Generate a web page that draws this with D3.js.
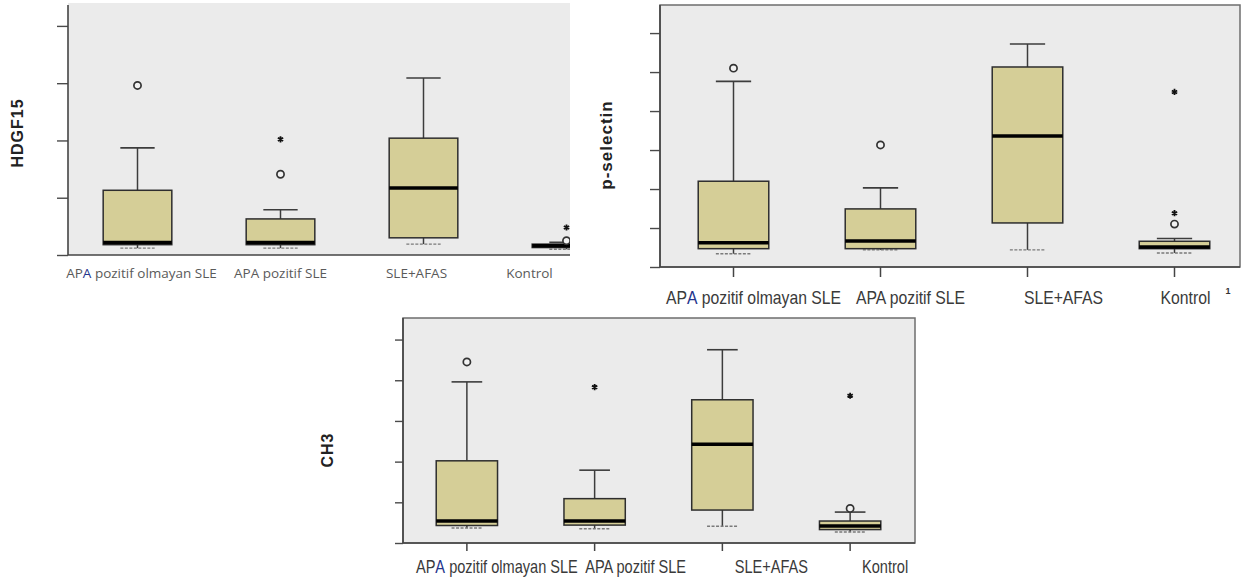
<!DOCTYPE html>
<html>
<head>
<meta charset="utf-8">
<script src="https://cdn.jsdelivr.net/npm/d3@7"></script>
<style>
  html, body { margin: 0; padding: 0; background: #fff; }
  svg { display: block; }
</style>
</head>
<body>
<svg id="chart" width="1246" height="585"></svg>
<script>
// ---- data -------------------------------------------------------------
const categories = ["APA pozitif olmayan SLE", "APA pozitif SLE", "SLE+AFAS", "Kontrol"];

// five-number summaries per group: [lower whisker, Q1, median, Q3, upper whisker]
const hdgf15Boxes = [
  [0.12, 0.18, 0.22, 1.13, 1.87],
  [0.12, 0.18, 0.22, 0.63, 0.79],
  [0.19, 0.30, 1.17, 2.04, 3.09],
  [0.10, 0.13, 0.16, 0.19, 0.22]
];
const pselectinBoxes = [
  [0.34, 0.47, 0.62, 2.20, 4.76],
  [0.44, 0.47, 0.67, 1.49, 2.03],
  [0.44, 1.13, 3.36, 5.13, 5.72],
  [0.36, 0.47, 0.51, 0.66, 0.73]
];
const ch3Boxes = [
  [0.37, 0.43, 0.54, 2.02, 3.96],
  [0.35, 0.44, 0.54, 1.09, 1.79],
  [0.41, 0.81, 2.43, 3.52, 4.75],
  [0.27, 0.33, 0.42, 0.54, 0.76]
];

// outliers: [group, value, kind]  ("o" = outlier, "*" = extreme)
const hdgf15Outliers = [
  ["APA pozitif olmayan SLE", 2.96, "o"],
  ["APA pozitif SLE", 2.02, "*"],
  ["APA pozitif SLE", 1.41, "o"],
  ["Kontrol", 0.25, "o"],
  ["Kontrol", 0.48, "*"]
];
const pselectinOutliers = [
  ["APA pozitif olmayan SLE", 5.10, "o"],
  ["APA pozitif SLE", 3.13, "o"],
  ["Kontrol", 1.10, "o"],
  ["Kontrol", 1.38, "*"],
  ["Kontrol", 4.49, "*"]
];
const ch3Outliers = [
  ["APA pozitif olmayan SLE", 4.45, "o"],
  ["APA pozitif SLE", 3.83, "*"],
  ["Kontrol", 0.85, "o"],
  ["Kontrol", 3.62, "*"]
];

// y-axis tick values (the axes carry no numbers)
const hdgf15Ticks = [0, 1, 2, 3, 4];
const pselectinTicks = [0, 1, 2, 3, 4, 5, 6];
const ch3Ticks = [0, 1, 2, 3, 4, 5];

// ---- layout -----------------------------------------------------------
const panels = [
  {
    title: "HDGF15", boxes: hdgf15Boxes, outliers: hdgf15Outliers, ticks: hdgf15Ticks,
    left: 68, right: 570, top: 3, bottom: 255, axisTop: 5, band: [66, 638], yMax: 4.4,
    frame: false, yTick: 11, xTick: 0,
    titlePos: [17, 133], titleSize: 16,
    label: { y: 273, family: "'Open Sans', sans-serif", size: 13.5, sx: 1, color: "#5a5a5a",
             shift: [4, 0, -7, -37] }
  },
  {
    title: "p-selectin", boxes: pselectinBoxes, outliers: pselectinOutliers, ticks: pselectinTicks,
    left: 660, right: 1240, top: 5, bottom: 267, axisTop: 5, band: [660, 1248], yMax: 6.72,
    frame: true, yTick: 10, xTick: 10,
    titlePos: [606, 145], titleSize: 17,
    label: { y: 297, family: "'Liberation Sans', Arial, sans-serif", size: 19, sx: 0.83, color: "#3a3a3a",
             shift: [20, 30, 36, 11], note: "1" }
  },
  {
    title: "CH3", boxes: ch3Boxes, outliers: ch3Outliers, ticks: ch3Ticks,
    left: 403, right: 915, top: 318, bottom: 543, axisTop: 318, band: [403, 914], yMax: 5.53,
    frame: true, yTick: 8, xTick: 8,
    titlePos: [327, 450], titleSize: 16,
    label: { y: 567, family: "'Liberation Sans', Arial, sans-serif", size: 18, sx: 0.81, color: "#3a3a3a",
             shift: [30, 41, 49, 35] }
  }
];

const BOX_FILL = "#d5ce97";
const PLOT_BG = "#ebebeb";

const svg = d3.select("#chart");

panels.forEach((p, pi) => {
  const g = svg.append("g");
  const x = d3.scaleBand().domain(categories).range(p.band).padding(0);
  const y = d3.scaleLinear().domain([0, p.yMax]).range([p.bottom, p.top]);
  const cx = c => x(c) + x.bandwidth() / 2;
  const bw = x.bandwidth() * 0.48;

  // plot area
  g.append("rect")
    .attr("x", p.left).attr("y", p.top)
    .attr("width", p.right - p.left).attr("height", p.bottom - p.top)
    .attr("fill", PLOT_BG)
    .attr("stroke", p.frame ? "#6e6e6e" : "none")
    .attr("stroke-width", 1.5);

  const clipId = "plotclip" + pi;
  g.append("clipPath").attr("id", clipId).append("rect")
    .attr("x", p.left).attr("y", 0)
    .attr("width", p.right - p.left).attr("height", p.bottom + 1);

  const marks = g.append("g").attr("clip-path", `url(#${clipId})`);

  // boxes
  const groups = marks.selectAll("g.box")
    .data(categories.map((c, i) => ({ cat: c, s: p.boxes[i] })))
    .join("g").attr("class", "box");

  // whisker stems
  groups.append("line")
    .attr("x1", d => cx(d.cat)).attr("x2", d => cx(d.cat))
    .attr("y1", d => y(d.s[3])).attr("y2", d => y(d.s[4]))
    .attr("stroke", "#3c3c3c").attr("stroke-width", 1.5);
  groups.append("line")
    .attr("x1", d => cx(d.cat)).attr("x2", d => cx(d.cat))
    .attr("y1", d => y(d.s[0])).attr("y2", d => y(d.s[1]))
    .attr("stroke", "#3c3c3c").attr("stroke-width", 1.5);
  // whisker caps
  groups.append("line")
    .attr("x1", d => cx(d.cat) - bw / 4).attr("x2", d => cx(d.cat) + bw / 4)
    .attr("y1", d => y(d.s[4])).attr("y2", d => y(d.s[4]))
    .attr("stroke", "#3c3c3c").attr("stroke-width", 1.6);
  groups.append("line")
    .attr("x1", d => cx(d.cat) - bw / 4).attr("x2", d => cx(d.cat) + bw / 4)
    .attr("y1", d => y(d.s[0])).attr("y2", d => y(d.s[0]))
    .attr("stroke", "#7a7a7a").attr("stroke-width", 1.4)
    .attr("stroke-dasharray", "3,1.5");
  // interquartile box
  groups.append("rect")
    .attr("x", d => cx(d.cat) - bw / 2).attr("width", bw)
    .attr("y", d => y(d.s[3])).attr("height", d => y(d.s[1]) - y(d.s[3]))
    .attr("fill", BOX_FILL).attr("stroke", "#2e2e2e").attr("stroke-width", 1.5);
  // median
  groups.append("line")
    .attr("x1", d => cx(d.cat) - bw / 2).attr("x2", d => cx(d.cat) + bw / 2)
    .attr("y1", d => y(d.s[2])).attr("y2", d => y(d.s[2]))
    .attr("stroke", "#000").attr("stroke-width", 3.5);

  // outliers
  marks.selectAll("circle.out")
    .data(p.outliers.filter(o => o[2] === "o"))
    .join("circle").attr("class", "out")
    .attr("cx", d => cx(d[0])).attr("cy", d => y(d[1])).attr("r", 3.6)
    .attr("fill", "#f2f2f2").attr("stroke", "#333").attr("stroke-width", 1.7);
  marks.selectAll("path.ext")
    .data(p.outliers.filter(o => o[2] === "*"))
    .join("path").attr("class", "ext")
    .attr("transform", d => `translate(${cx(d[0])},${y(d[1])})`)
    .attr("d", d3.symbol(d3.symbolAsterisk, 26))
    .attr("fill", "none").attr("stroke", "#111").attr("stroke-width", 1.8);

  // y axis ticks (no numbers)
  const ya = g.append("g").attr("transform", `translate(${p.left},0)`)
    .call(d3.axisLeft(y).tickValues(p.ticks).tickFormat("").tickSize(p.yTick).tickSizeOuter(0));
  ya.select(".domain").remove();
  ya.selectAll(".tick line").attr("stroke", "#4a4a4a").attr("stroke-width", 1.4);

  // x axis ticks
  if (p.xTick > 0) {
    const xa = g.append("g").attr("transform", `translate(0,${p.bottom})`)
      .call(d3.axisBottom(x).tickFormat("").tickSize(p.xTick).tickSizeOuter(0));
    xa.select(".domain").remove();
    xa.selectAll(".tick line").attr("stroke", "#444").attr("stroke-width", 1.5);
  }

  // axis lines
  g.append("line")
    .attr("x1", p.left).attr("x2", p.left).attr("y1", p.axisTop).attr("y2", p.bottom)
    .attr("stroke", "#444").attr("stroke-width", 1.6);
  g.append("line")
    .attr("x1", p.left).attr("x2", p.right).attr("y1", p.bottom).attr("y2", p.bottom)
    .attr("stroke", "#444").attr("stroke-width", 1.6);

  // category labels
  const L = p.label;
  const labels = g.selectAll("text.cat")
    .data(categories)
    .join("text").attr("class", "cat")
    .attr("transform", (c, i) => `translate(${cx(c) + L.shift[i]},${L.y}) scale(${L.sx},1)`)
    .attr("text-anchor", "middle")
    .attr("dy", "0.35em")
    .attr("font-family", L.family)
    .attr("font-size", L.size)
    .attr("fill", L.color);
  labels.each(function (c, i) {
    const t = d3.select(this);
    if (i === 0) {
      t.append("tspan").text(c.slice(0, 2));
      t.append("tspan").attr("fill", "#25348c").text(c.slice(2, 3));
      t.append("tspan").text(c.slice(3));
    } else {
      t.text(c);
    }
  });
  if (L.note) {
    const last = categories[categories.length - 1];
    g.append("text")
      .attr("x", cx(last) + L.shift[3] + 40).attr("y", L.y - 3)
      .attr("font-family", L.family).attr("font-size", 9).attr("font-weight", "bold")
      .attr("fill", "#333").text(L.note);
  }

  // y-axis title
  g.append("text")
    .attr("transform", `translate(${p.titlePos[0]},${p.titlePos[1]}) rotate(-90)`)
    .attr("text-anchor", "middle").attr("dy", "0.35em")
    .attr("font-family", "'Liberation Sans', Arial, sans-serif")
    .attr("font-weight", "bold").attr("font-size", p.titleSize)
    .attr("letter-spacing", 1)
    .attr("fill", "#222")
    .text(p.title);
});
</script>
</body>
</html>
